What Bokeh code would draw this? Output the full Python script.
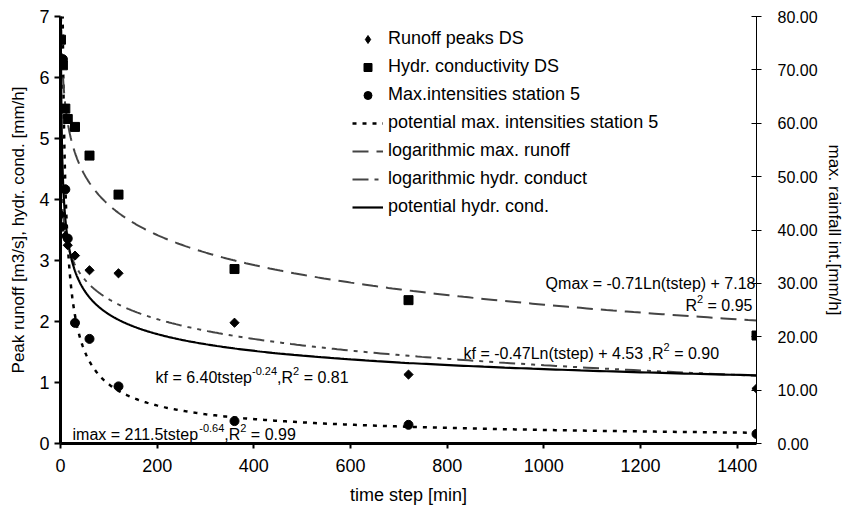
import numpy as np
from bokeh.plotting import figure
from bokeh.models import (Range1d, LinearAxis, FixedTicker, NumeralTickFormatter,
                          Label, Legend, LegendItem)
from bokeh.embed import file_html
from bokeh.resources import INLINE

# ---------------- data ----------------
time_step = [1, 5, 10, 15, 30, 60, 120, 360, 720, 1440]
runoff_peaks = [3.75, 3.55, 3.40, 3.25, 3.08, 2.84, 2.79, 1.98, 1.13, 0.90]
hydr_cond = [6.62, 6.20, 5.49, 5.32, 5.19, 4.72, 4.08, 2.86, 2.35, 1.77]
max_intensity = [np.nan, 72.0, 47.6, 38.4, 22.6, 19.6, 10.7, 4.2, 3.5, 1.8]

# trend line coefficients as printed on the chart
imax_coef, imax_exp = 211.5, -0.64
qmax_slope, qmax_icpt = -0.71, 7.18
kf_log_slope, kf_log_icpt = -0.47, 4.53
kf_pow_coef, kf_pow_exp = 6.40, -0.24

x_ticks = [0, 200, 400, 600, 800, 1000, 1200, 1400]
left_ticks = [0, 1, 2, 3, 4, 5, 6, 7]
right_ticks = [0, 10, 20, 30, 40, 50, 60, 70, 80]

FONT = "Liberation Sans"

p = figure(width=846, height=510, output_backend="svg", toolbar_location=None,
           x_range=Range1d(0, 1440), y_range=Range1d(0, 7),
           min_border_left=60, min_border_right=87, min_border_top=16, min_border_bottom=67,
           background_fill_color="white", border_fill_color="white")
p.outline_line_color = None
p.grid.visible = False
p.extra_y_ranges = {"right": Range1d(0, 80)}

# ---------------- axes ----------------
xa = p.xaxis[0]
xa.ticker = FixedTicker(ticks=x_ticks)
xa.axis_label = "time step [min]"
xa.axis_line_width = 3
xa.major_tick_out = 5
xa.major_tick_in = 0
xa.minor_tick_out = 0
xa.minor_tick_in = 0
xa.major_tick_line_width = 2
xa.major_label_standoff = 10
xa.axis_label_standoff = 10

ya = p.yaxis[0]
ya.ticker = FixedTicker(ticks=left_ticks)
ya.axis_label = "Peak runoff [m3/s], hydr. cond. [mm/h]"
ya.axis_line_width = 3
ya.major_tick_out = 6
ya.major_tick_in = 0
ya.minor_tick_out = 0
ya.minor_tick_in = 0
ya.major_tick_line_width = 2
ya.major_label_standoff = 5
ya.axis_label_standoff = 8

ra = LinearAxis(y_range_name="right", ticker=FixedTicker(ticks=right_ticks),
                formatter=NumeralTickFormatter(format="0.00"),
                axis_label="max. rainfall int.[mm/h]")
ra.axis_line_width = 1
ra.major_tick_out = 5
ra.major_tick_in = 5
ra.minor_tick_out = 0
ra.minor_tick_in = 0
ra.major_label_standoff = 16
ra.axis_label_standoff = 4
p.add_layout(ra, "right")

for ax in (xa, ya, ra):
    ax.major_label_text_font = FONT
    ax.axis_label_text_font = FONT
    ax.major_label_text_color = "black"
    ax.axis_label_text_color = "black"
    ax.axis_label_text_font_style = "normal"
    ax.axis_line_color = "black"
    ax.major_tick_line_color = "black"
for ax in (xa, ya):
    ax.major_label_text_font_size = "18px"
xa.axis_label_text_font_size = "18px"
ya.axis_label_text_font_size = "17px"
ra.major_label_text_font_size = "16px"
ra.axis_label_text_font_size = "17px"

# ---------------- trend lines ----------------
tt = np.geomspace(1, 1440, 600)
imax_curve = imax_coef * tt ** imax_exp
qmax_curve = qmax_slope * np.log(tt) + qmax_icpt
kf_log_curve = kf_log_slope * np.log(tt) + kf_log_icpt
kf_pow_curve = kf_pow_coef * tt ** kf_pow_exp

r_dot = p.line(tt, imax_curve, y_range_name="right", line_color="black",
               line_width=2.5, line_dash="4 6")
r_qmax = p.line(tt, qmax_curve, line_color="#444444", line_width=2, line_dash="16 8")
r_kflog = p.line(tt, kf_log_curve, line_color="#444444", line_width=2,
                 line_dash="16 6 4 6 4 6")
r_kfpow = p.line(tt, kf_pow_curve, line_color="black", line_width=2.2)

# ---------------- markers ----------------
r_dia = p.scatter(time_step, runoff_peaks, marker="square", angle=np.pi / 4, size=6.5,
                  fill_color="black", line_color="black")
r_sq = p.scatter(time_step, hydr_cond, marker="square", size=9,
                 fill_color="black", line_color="black")
r_circ = p.scatter(time_step, max_intensity, y_range_name="right", marker="circle", size=9,
                   fill_color="black", line_color="black")
# legend-only glyph for the diamond symbol (a NaN point, never drawn in the plot)
r_dia_leg = p.scatter(x=[np.nan], y=[np.nan], marker="diamond", size=11,
                      fill_color="black", line_color="black")

legend = Legend(items=[
    LegendItem(label="Runoff peaks DS", renderers=[r_dia_leg]),
    LegendItem(label="Hydr. conductivity DS", renderers=[r_sq]),
    LegendItem(label="Max.intensities station 5", renderers=[r_circ]),
    LegendItem(label="potential max. intensities station 5", renderers=[r_dot]),
    LegendItem(label="logarithmic max. runoff", renderers=[r_qmax]),
    LegendItem(label="logarithmic hydr. conduct", renderers=[r_kflog]),
    LegendItem(label="potential hydr. cond.", renderers=[r_kfpow]),
], location=(292, 226))
legend.border_line_color = None
legend.background_fill_alpha = 0
legend.padding = 0
legend.margin = 0
legend.spacing = 7
legend.glyph_width = 31
legend.glyph_height = 20
legend.label_height = 20
legend.label_standoff = 5
legend.label_text_font = FONT
legend.label_text_font_size = "18px"
legend.label_text_color = "black"
p.add_layout(legend, "center")

# ---------------- equation labels with superscripts ----------------
AW = {' ': 278, '(': 333, ')': 333, '+': 584, ',': 278, '-': 333, '.': 278, '=': 584,
      'L': 556, 'Q': 778, 'R': 722, 'a': 556, 'e': 556, 'f': 278, 'i': 222, 'k': 500,
      'm': 833, 'n': 556, 'p': 556, 's': 500, 't': 278, 'x': 500}
for d in "0123456789":
    AW[d] = 556

FL, FB = 60, 443      # frame left / bottom in canvas px
MAIN, SUP, RAISE = 16, 11, 7


def tw(s, size):
    return sum(AW.get(c, 556) for c in s) * size / 1000.0


def equation(segments, x, ymid, align="left"):
    total = sum(tw(s, SUP if sup else MAIN) for s, sup in segments)
    if align == "right":
        x -= total
    for s, sup in segments:
        size = SUP if sup else MAIN
        lead = len(s) - len(s.lstrip(" "))
        x += tw(" " * lead, size)
        body = s.lstrip(" ")
        p.add_layout(Label(x=x - FL, y=FB - ymid + (RAISE if sup else 0),
                           x_units="screen", y_units="screen", text=body,
                           text_font=FONT, text_font_size=f"{size}px",
                           text_baseline="middle", text_align="left",
                           text_color="black"))
        x += tw(body, size)


equation([("Qmax = -0.71Ln(tstep) + 7.18", False)], 755, 283, "right")
equation([("R", False), ("2", True), (" = 0.95", False)], 752, 305, "right")
equation([("kf = -0.47Ln(tstep) + 4.53 ,R", False), ("2", True), (" = 0.90", False)], 463, 353)
equation([("kf = 6.40tstep", False), ("-0.24", True), (",R", False), ("2", True),
          (" = 0.81", False)], 155, 377)
equation([("imax = 211.5tstep", False), ("-0.64", True), (",R", False), ("2", True),
          (" = 0.99", False)], 72, 434)

open("out.html", "w").write(file_html(p, INLINE))
